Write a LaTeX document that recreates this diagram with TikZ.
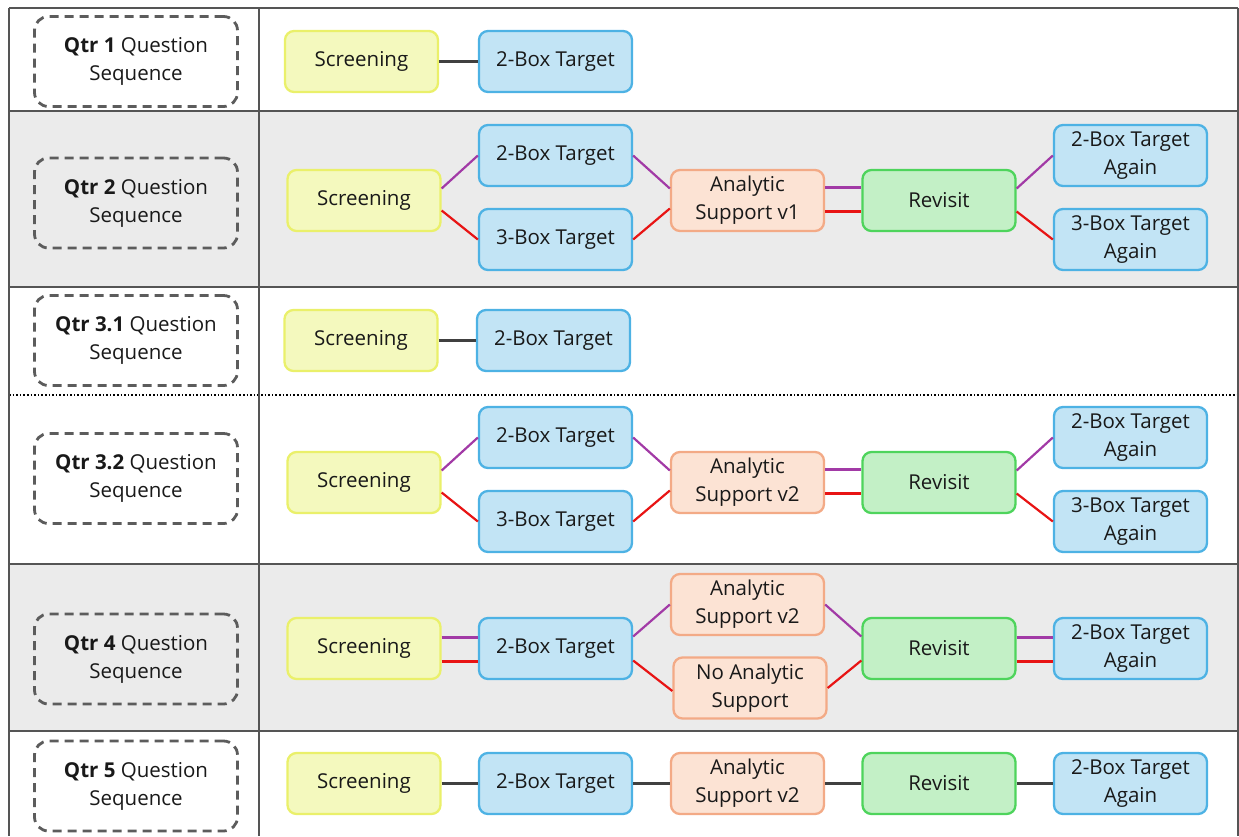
\documentclass[tikz,border=0pt]{standalone}
\usepackage{fontspec}
\setmainfont{Open Sans}
\definecolor{gridline}{HTML}{555555}
\definecolor{rowshade}{HTML}{EBEBEB}
\definecolor{scrfill}{HTML}{F4F9BE}
\definecolor{scrdraw}{HTML}{EAF06A}
\definecolor{tgtfill}{HTML}{C2E4F5}
\definecolor{tgtdraw}{HTML}{4DB2E4}
\definecolor{ansfill}{HTML}{FCE3D4}
\definecolor{ansdraw}{HTML}{F3AA86}
\definecolor{revfill}{HTML}{C3F0C6}
\definecolor{revdraw}{HTML}{4ED45C}
\definecolor{purline}{HTML}{A23AA6}
\definecolor{redline}{HTML}{E81414}
\definecolor{plainline}{HTML}{404040}
\definecolor{labeldash}{HTML}{5C5C5C}
\tikzset{
  base/.style={rounded corners=9pt, line width=2.3pt, minimum width=153pt,
    minimum height=61pt, align=center, inner sep=2pt,
    font=\fontsize{20.5}{28}\selectfont, text=black!90},
  scr/.style={base, fill=scrfill, draw=scrdraw},
  tgt/.style={base, fill=tgtfill, draw=tgtdraw},
  ans/.style={base, fill=ansfill, draw=ansdraw},
  rev/.style={base, fill=revfill, draw=revdraw},
  qlabel/.style={draw=labeldash, line width=2.8pt, dash pattern=on 9pt off 6pt,
    rounded corners=14pt, minimum width=203pt, minimum height=90pt,
    align=center, font=\fontsize{20.5}{28}\selectfont, text=black!90},
  pur/.style={draw=purline, line width=2.2pt},
  rdl/.style={draw=redline, line width=2.2pt},
  pln/.style={draw=plainline, line width=2.2pt},
  grid/.style={draw=gridline, line width=1.8pt},
}
\begin{document}
\begin{tikzpicture}[x=1pt, y=-1pt]
\useasboundingbox (0,0) rectangle (1239,836);

% shaded rows
\fill[rowshade] (9,111) rectangle (1238,287);
\fill[rowshade] (9,564) rectangle (1238,731);

% table rules
\draw[grid] (9,8) -- (1238,8);
\draw[grid] (9,111) -- (1238,111);
\draw[grid] (9,287) -- (1238,287);
\draw[grid] (9,564) -- (1238,564);
\draw[grid] (9,731) -- (1238,731);
\draw[black, line width=1.6pt, dotted] (9,395) -- (1238,395);
\draw[grid] (9,8) -- (9,836);
\draw[grid] (259,8) -- (259,836);
\draw[grid] (1238,8) -- (1238,836);

% row labels
\node[qlabel] (q1)  at (136,61.5)  {\textbf{Qtr 1} Question\\Sequence};
\node[qlabel] (q2)  at (136,203)   {\textbf{Qtr 2} Question\\Sequence};
\node[qlabel] (q31) at (136,340.5) {\textbf{Qtr 3.1} Question\\Sequence};
\node[qlabel] (q32) at (136,478.5) {\textbf{Qtr 3.2} Question\\Sequence};
\node[qlabel] (q4)  at (136,659)   {\textbf{Qtr 4} Question\\Sequence};
\node[qlabel] (q5)  at (136,786)   {\textbf{Qtr 5} Question\\Sequence};

% Qtr 1
\node[scr] (s1) at (361.5,61.5) {Screening};
\node[tgt] (t1) at (555.5,61.5) {2-Box Target};
\draw[pln] (s1) -- (t1);

% Qtr 2
\node[scr] (s2)  at (364,200.5)    {Screening};
\node[tgt] (t2a) at (555.5,155.5)  {2-Box Target};
\node[tgt] (t2b) at (555.5,239.5)  {3-Box Target};
\node[ans] (as2) at (747.5,200.5)  {Analytic\\Support v1};
\node[rev] (rv2) at (939,200.5)    {Revisit};
\node[tgt] (a2a) at (1130.5,155.5) {2-Box Target\\Again};
\node[tgt] (a2b) at (1130.5,239.5) {3-Box Target\\Again};
\draw[pur] ([yshift=12pt]s2.east) -- (t2a.west);
\draw[rdl] ([yshift=-10pt]s2.east) -- (t2b.west);
\draw[pur] (t2a.east) -- ([yshift=12pt]as2.west);
\draw[rdl] (t2b.east) -- ([yshift=-8pt]as2.west);
\draw[pur] ([yshift=13pt]as2.east) -- ([yshift=13pt]rv2.west);
\draw[rdl] ([yshift=-11pt]as2.east) -- ([yshift=-11pt]rv2.west);
\draw[pur] ([yshift=12pt]rv2.east) -- (a2a.west);
\draw[rdl] ([yshift=-11pt]rv2.east) -- (a2b.west);

% Qtr 3.1
\node[scr] (s31) at (361,340.5)   {Screening};
\node[tgt] (t31) at (553.5,340.5) {2-Box Target};
\draw[pln] (s31) -- (t31);

% Qtr 3.2
\node[scr] (s3)  at (364,482.5)    {Screening};
\node[tgt] (t3a) at (555.5,437.5)  {2-Box Target};
\node[tgt] (t3b) at (555.5,521.5)  {3-Box Target};
\node[ans] (as3) at (747.5,482.5)  {Analytic\\Support v2};
\node[rev] (rv3) at (939,482.5)    {Revisit};
\node[tgt] (a3a) at (1130.5,437.5) {2-Box Target\\Again};
\node[tgt] (a3b) at (1130.5,521.5) {3-Box Target\\Again};
\draw[pur] ([yshift=12pt]s3.east) -- (t3a.west);
\draw[rdl] ([yshift=-10pt]s3.east) -- (t3b.west);
\draw[pur] (t3a.east) -- ([yshift=12pt]as3.west);
\draw[rdl] (t3b.east) -- ([yshift=-8pt]as3.west);
\draw[pur] ([yshift=13pt]as3.east) -- ([yshift=13pt]rv3.west);
\draw[rdl] ([yshift=-11pt]as3.east) -- ([yshift=-11pt]rv3.west);
\draw[pur] ([yshift=12pt]rv3.east) -- (a3a.west);
\draw[rdl] ([yshift=-11pt]rv3.east) -- (a3b.west);

% Qtr 4
\node[scr] (s4)  at (364,648.5)    {Screening};
\node[tgt] (t4)  at (555.5,648.5)  {2-Box Target};
\node[ans] (as4) at (747.5,604.5)  {Analytic\\Support v2};
\node[ans] (na4) at (750,688)      {No Analytic\\Support};
\node[rev] (rv4) at (939,648.5)    {Revisit};
\node[tgt] (a4)  at (1130.5,648.5) {2-Box Target\\Again};
\draw[pur] ([yshift=11pt]s4.east) -- ([yshift=11pt]t4.west);
\draw[rdl] ([yshift=-13pt]s4.east) -- ([yshift=-13pt]t4.west);
\draw[pur] ([yshift=12pt]t4.east) -- (as4.west);
\draw[rdl] ([yshift=-12pt]t4.east) -- ([yshift=-3pt]na4.west);
\draw[pur] (as4.east) -- ([yshift=12pt]rv4.west);
\draw[rdl] (na4.east) -- ([yshift=-12pt]rv4.west);
\draw[pur] ([yshift=11pt]rv4.east) -- ([yshift=11pt]a4.west);
\draw[rdl] ([yshift=-13pt]rv4.east) -- ([yshift=-13pt]a4.west);

% Qtr 5
\node[scr] (s5)  at (364,783.5)    {Screening};
\node[tgt] (t5)  at (555.5,783.5)  {2-Box Target};
\node[ans] (as5) at (747.5,783.5)  {Analytic\\Support v2};
\node[rev] (rv5) at (939,783.5)    {Revisit};
\node[tgt] (a5)  at (1130.5,783.5) {2-Box Target\\Again};
\draw[pln] (s5) -- (t5);
\draw[pln] (t5) -- (as5);
\draw[pln] (as5) -- (rv5);
\draw[pln] (rv5) -- (a5);
\end{tikzpicture}
\end{document}
